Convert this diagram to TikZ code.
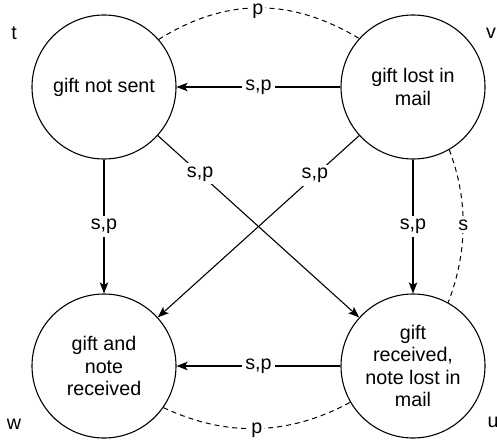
\documentclass[tikz,border=0pt]{standalone}
\usepackage{fontspec}
\setmainfont{Liberation Sans}
\usetikzlibrary{arrows.meta}
\begin{document}
\begin{tikzpicture}[x=1pt,y=-1pt,
  every node/.style={font=\fontsize{19.7}{22.3}\selectfont},
  state/.style={draw, circle, minimum size=144pt, inner sep=0pt, line width=1.1pt, align=center},
  tr/.style={line width=1.1pt, -{Stealth[length=11pt,width=8.5pt,inset=2.5pt]}},
  lbl/.style={fill=white, inner sep=3pt},
  dsh/.style={line width=1pt, dash pattern=on 5pt off 4pt},
  corner/.style={inner sep=0pt}]
\useasboundingbox (0,0) rectangle (497,444);
\node[state] (t) at (104,87) {gift not sent};
\node[state] (v) at (413,87) {gift lost in\\mail};
\node[state] (w) at (104,366) {gift and\\note\\received};
\node[state] (u) at (413,366) {gift\\received,\\note lost in\\mail};
\node[corner] (lt) at (14,33) {t};
\node[corner] (lv) at (491,33) {v};
\node[corner] (lw) at (14,424) {w};
\node[corner] (lu) at (493,422) {u};
% straight transitions
\draw[tr] (v) -- node[lbl] {s,p} (t);
\draw[tr] (u) -- node[lbl] {s,p} (w);
\draw[tr] (t) -- node[lbl] {s,p} (w);
\draw[tr] (v) -- node[lbl] {s,p} (u);
\draw[tr] (t) -- node[lbl, pos=0.21] {s,p} (u);
\draw[tr] (v) -- node[lbl, pos=0.22] {s,p} (w);
% dashed arcs
\draw[dsh] (t.41) .. controls (225,-2) and (290,-3) .. node[lbl, pos=0.5, inner sep=2pt, yshift=-3pt] {p} (v.138);
\draw[dsh] (v.-60) .. controls (468,199) and (468,251) .. node[lbl, pos=0.5, inner sep=2pt] {s} (u.61);
\draw[dsh] (w.-35) .. controls (226,437) and (288,436) .. node[lbl, pos=0.5, inner sep=2pt, yshift=-2pt] {p} (u.210);
\end{tikzpicture}
\end{document}
